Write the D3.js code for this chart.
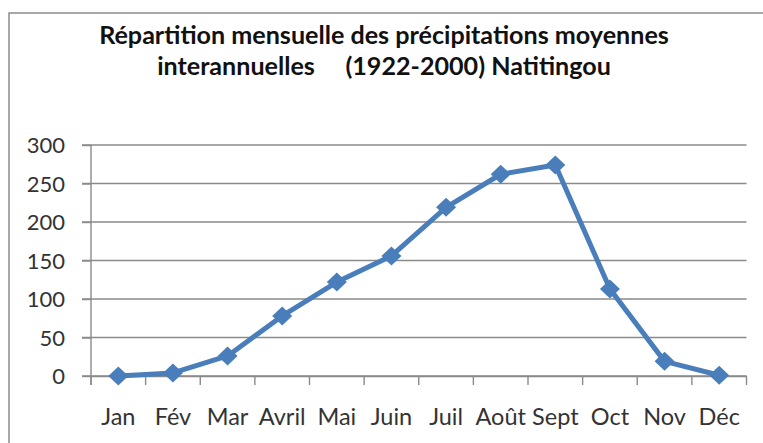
<!DOCTYPE html>
<html>
<head>
<meta charset="utf-8">
<script src="https://cdn.jsdelivr.net/npm/d3@7"></script>
<style>
  html, body { margin: 0; padding: 0; background: #fff; }
  svg { display: block; }
</style>
</head>
<body>
<svg id="chart" width="763" height="443"></svg>
<script>
const months = ["Jan", "Fév", "Mar", "Avril", "Mai", "Juin", "Juil", "Août", "Sept", "Oct", "Nov", "Déc"];
const rainfall = [0, 4, 26, 78, 122, 156, 219, 262, 274, 113, 19, 1];
const yTicks = [0, 50, 100, 150, 200, 250, 300];
const titleLines = ["Répartition mensuelle des précipitations moyennes", "interannuelles     (1922-2000) Natitingou"];

(function () {
const svg = d3.select("#chart");
const font = "Lato, 'Open Sans', sans-serif";
const gridColor = "#8a8a8a";
const lineColor = "#4a7ebb";

// outer frame
svg.append("rect")
  .attr("x", 9).attr("y", 13)
  .attr("width", 800).attr("height", 500)
  .attr("fill", "#fff")
  .attr("stroke", "#8c8c8c")
  .attr("stroke-width", 1.5);

const pLeft = 91, pRight = 746.5, pTop = 145, pBottom = 376;

const x = d3.scaleBand().domain(months).range([pLeft, pRight]);
const y = d3.scaleLinear().domain([0, 300]).range([pBottom, pTop]);

// gridlines
svg.append("g")
  .selectAll("line")
  .data(yTicks)
  .join("line")
  .attr("x1", pLeft - 9).attr("x2", pRight)
  .attr("y1", d => y(d)).attr("y2", d => y(d))
  .attr("stroke", gridColor)
  .attr("stroke-width", 1.4);

// y axis
const yAxis = svg.append("g")
  .attr("transform", `translate(${pLeft},0)`)
  .call(d3.axisLeft(y).tickValues(yTicks).tickSize(9).tickPadding(17));
yAxis.select(".domain").attr("stroke", gridColor).attr("stroke-width", 1.4)
  .attr("d", `M0,${pTop}V${pBottom + 9}`);
yAxis.selectAll(".tick line").attr("stroke", gridColor).attr("stroke-width", 1.4);
yAxis.selectAll(".tick text")
  .attr("font-family", font).attr("font-size", 22).attr("fill", "#333")
  .attr("dy", "0.36em");

// x axis
const xAxis = svg.append("g")
  .attr("transform", `translate(0,${pBottom})`)
  .call(d3.axisBottom(x).tickSize(0).tickPadding(0));
xAxis.select(".domain").attr("stroke", gridColor).attr("stroke-width", 1.4);
xAxis.selectAll(".tick text")
  .attr("font-family", font).attr("font-size", 23.5).attr("fill", "#333")
  .attr("y", 49).attr("dy", 0);
// tick marks at band boundaries
const boundaries = months.map(m => x(m)).concat([pRight]);
svg.append("g")
  .selectAll("line")
  .data(boundaries)
  .join("line")
  .attr("x1", d => d).attr("x2", d => d)
  .attr("y1", pBottom).attr("y2", pBottom + 9)
  .attr("stroke", gridColor).attr("stroke-width", 1.4);

// line
const cx = m => x(m) + x.bandwidth() / 2;
const line = d3.line().x((d, i) => cx(months[i])).y(d => y(d));
svg.append("path")
  .datum(rainfall)
  .attr("d", line)
  .attr("fill", "none")
  .attr("stroke", lineColor)
  .attr("stroke-width", 5)
  .attr("stroke-linejoin", "round");

// diamond markers
svg.append("g")
  .selectAll("path")
  .data(rainfall)
  .join("path")
  .attr("transform", (d, i) => `translate(${cx(months[i])},${y(d)})`)
  .attr("d", "M0,-9.5L10,0L0,9.5L-10,0Z")
  .attr("fill", lineColor);

// title
const cxTitle = 384;
const t1 = svg.append("text")
  .attr("x", cxTitle).attr("y", 44)
  .attr("text-anchor", "middle")
  .attr("font-family", font).attr("font-weight", "bold").attr("font-size", 20)
  .attr("fill", "#111")
  .text(titleLines[0]);
const w = t1.node().getComputedTextLength();
const fs = 20 * 570 / w;
t1.attr("font-size", fs);
svg.append("text")
  .attr("x", cxTitle).attr("y", 75)
  .attr("text-anchor", "middle")
  .attr("font-family", font).attr("font-weight", "bold").attr("font-size", fs)
  .attr("fill", "#111")
  .style("white-space", "pre")
  .text(titleLines[1]);
})();
</script>
</body>
</html>
